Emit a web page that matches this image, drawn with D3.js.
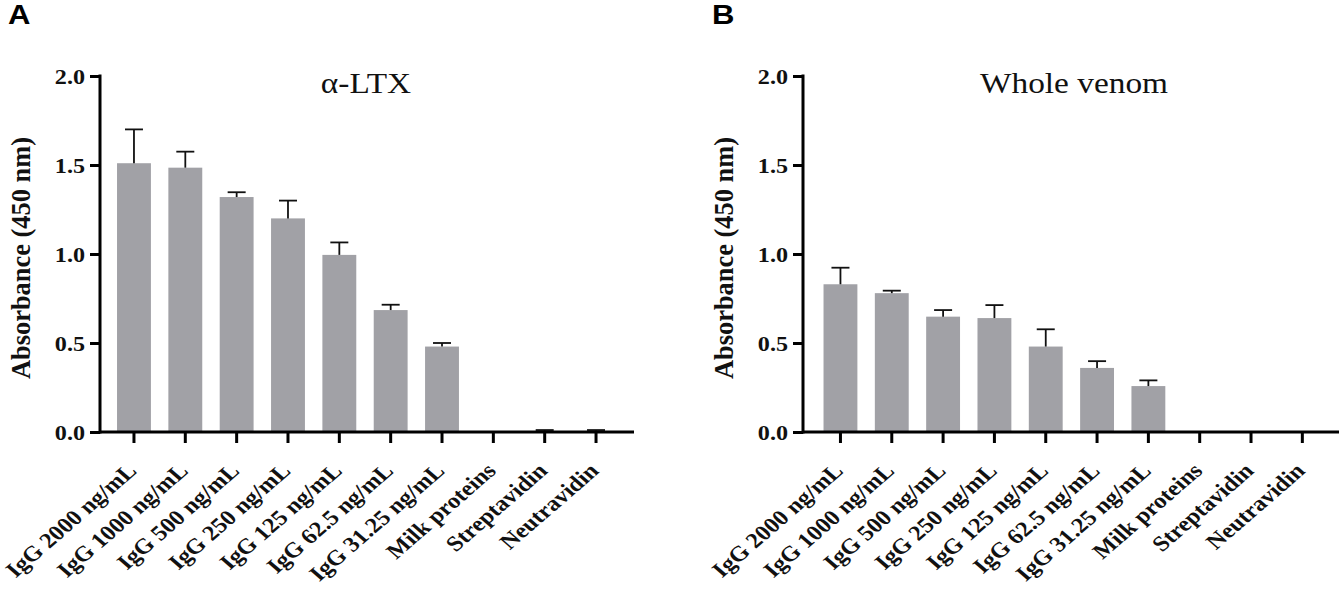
<!DOCTYPE html>
<html><head><meta charset="utf-8">
<script src="https://cdn.jsdelivr.net/npm/d3@7/dist/d3.min.js"></script>
<style>
html,body{margin:0;padding:0;background:#fff;}
svg{display:block;}
</style>
</head><body>
<svg id="chart" width="1342" height="597"></svg>
<script>
// ---- data ----
const categories = ["IgG 2000 ng/mL","IgG 1000 ng/mL","IgG 500 ng/mL","IgG 250 ng/mL","IgG 125 ng/mL","IgG 62.5 ng/mL","IgG 31.25 ng/mL","Milk proteins","Streptavidin","Neutravidin"];
const ltxMeans = [1.51, 1.485, 1.32, 1.20, 0.995, 0.685, 0.48, 0, 0.003, 0.003];
const ltxErrors = [0.19, 0.09, 0.027, 0.10, 0.07, 0.03, 0.02, 0, 0.008, 0.008];
const venomMeans = [0.83, 0.78, 0.648, 0.64, 0.48, 0.36, 0.258, 0, 0, 0];
const venomErrors = [0.093, 0.014, 0.037, 0.073, 0.097, 0.038, 0.032, 0, 0, 0];
const yTicks = [0.0, 0.5, 1.0, 1.5, 2.0];
const yDomain = [0, 2.0];
const panelLabels = ["A", "B"];
const panelTitles = ["α-LTX", "Whole venom"];
const yTitle = "Absorbance (450  nm)";

// ---- layout ----
const svg = d3.select("#chart");
const SX = 1.15; // horizontal stretch of the original figure
const SERIF = "'Liberation Serif', 'Times New Roman', Times, serif";
const panels = [
  {label: panelLabels[0], title: panelTitles[0], means: ltxMeans, errs: ltxErrors,
   axisX: 100, axisEnd: 634, bandStart: 108.3, bandEnd: 621.7, titleX: 366, labelX: 8},
  {label: panelLabels[1], title: panelTitles[1], means: venomMeans, errs: venomErrors,
   axisX: 803, axisEnd: 1339, bandStart: 814.8, bandEnd: 1328, titleX: 1074, labelX: 712}
];
const yTop = 76, yBottom = 432;
const y = d3.scaleLinear().domain(yDomain).range([yBottom, yTop]);
const barColor = "#a1a1a6";

panels.forEach(p => {
  const g = svg.append("g");
  const x = d3.scaleBand().domain(categories).range([p.bandStart, p.bandEnd])
    .paddingInner(0.34).paddingOuter(0.17);

  // bars
  g.selectAll("rect.bar").data(categories).enter().append("rect")
    .attr("class","bar")
    .attr("x", d => x(d))
    .attr("width", x.bandwidth())
    .attr("y", (d,i) => y(p.means[i]))
    .attr("height", (d,i) => yBottom - y(p.means[i]))
    .attr("fill", barColor);

  // error bars (upper only)
  const capW = 18;
  categories.forEach((c,i) => {
    if (p.errs[i] <= 0) return;
    const cx = x(c) + x.bandwidth()/2;
    const top = y(p.means[i] + p.errs[i]);
    g.append("line").attr("x1", cx).attr("x2", cx)
      .attr("y1", y(p.means[i])).attr("y2", top)
      .attr("stroke","#111").attr("stroke-width",1.8);
    g.append("line").attr("x1", cx - capW/2).attr("x2", cx + capW/2)
      .attr("y1", top).attr("y2", top)
      .attr("stroke","#111").attr("stroke-width",1.8);
  });

  // y axis
  const yAxis = d3.axisLeft(y).tickValues(yTicks).tickFormat(d3.format(".1f"))
    .tickSize(10).tickSizeOuter(0).tickPadding(5);
  const ya = g.append("g").attr("transform", `translate(${p.axisX},0)`).call(yAxis);
  ya.attr("font-family", null).attr("font-size", null);
  ya.select(".domain").remove();
  ya.selectAll(".tick line").attr("stroke","#000").attr("stroke-width",3);
  ya.selectAll(".tick text")
    .style("font-family", SERIF)
    .style("font-weight","bold").style("font-size", "21px").attr("fill","#111")
    .attr("x", -15/SX).attr("dy","0.34em")
    .attr("transform", `scale(${SX},1)`);
  g.append("line").attr("x1", p.axisX).attr("x2", p.axisX)
    .attr("y1", yTop - 1.5).attr("y2", yBottom + 1.5)
    .attr("stroke","#000").attr("stroke-width",3);

  // x axis
  g.append("line").attr("x1", p.axisX).attr("x2", p.axisEnd)
    .attr("y1", yBottom).attr("y2", yBottom)
    .attr("stroke","#000").attr("stroke-width",3);
  const xAxis = d3.axisBottom(x).tickSize(11).tickSizeOuter(0).tickFormat("");
  const xa = g.append("g").attr("transform", `translate(0,${yBottom})`).call(xAxis);
  xa.select(".domain").remove();
  xa.selectAll(".tick line").attr("stroke","#000").attr("stroke-width",3);

  // x labels
  g.selectAll("text.xl").data(categories).enter().append("text")
    .attr("class","xl")
    .attr("transform", d => `translate(${x(d) + x.bandwidth()/2 + 4},${yBottom + 40}) scale(${SX},1) rotate(-45)`)
    .attr("text-anchor","end")
    .style("font-family", SERIF)
    .style("font-weight","bold").style("font-size", "21.5px").attr("fill","#111")
    .text(d => d);

  // y title
  g.append("text")
    .attr("transform", `translate(${p.axisX - 70},${(136+380)/2}) scale(${SX},1) rotate(-90)`)
    .attr("text-anchor","middle")
    .style("font-family", SERIF)
    .style("font-weight","bold").style("font-size", "23px").attr("fill","#111")
    .attr("textLength", 242).attr("lengthAdjust","spacingAndGlyphs")
    .text(yTitle);

  // panel title
  g.append("text")
    .attr("transform", `translate(${p.titleX},93) scale(${SX},1)`)
    .attr("text-anchor","middle")
    .style("font-family", SERIF)
    .style("font-size", "29px").attr("fill","#111")
    .text(p.title);

  // panel label
  g.append("text")
    .attr("transform", `translate(${p.labelX},24) scale(${SX},1)`)
    .style("font-family","'Liberation Sans', Arial, sans-serif")
    .style("font-weight","bold").style("font-size", "27px").attr("fill","#000")
    .text(p.label);
});
</script>
</body></html>
